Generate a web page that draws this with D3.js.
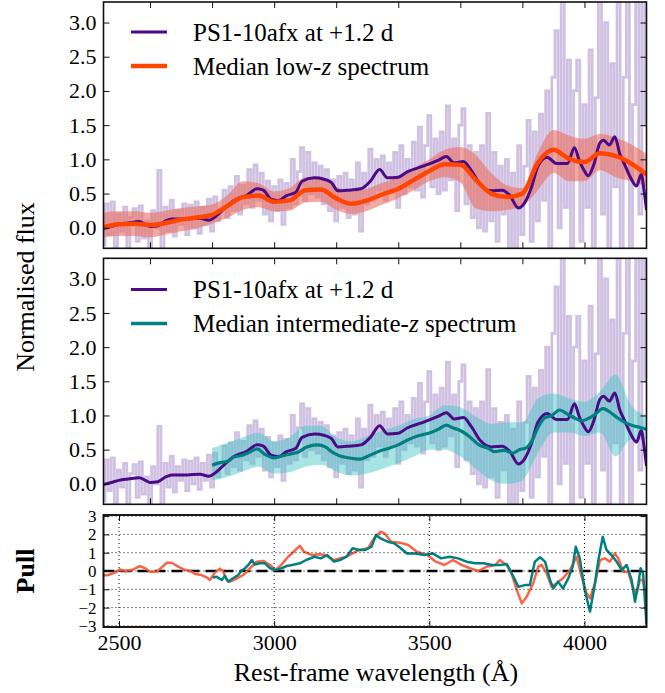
<!DOCTYPE html>
<html>
<head>
<meta charset="utf-8">
<script src="https://cdn.jsdelivr.net/npm/d3@7"></script>
</head>
<body style="margin:0">
<div id="chart"></div>
<script>

// Raw PS1-10afx spectrum, one value every 10 A from 2450 to 4200
var rawStart = 2450, rawStep = 10;
var rawFlux = [
  -0.25, 0.35, -0.10, 0.38, -0.28, 0.20, -0.05, 0.30, -0.30, 0.15,
   0.28, -0.20, 0.32, -0.15, 0.10, -0.30, 0.25, 0.00, 0.84, -0.32,
   0.30, -0.05, 0.40, -0.12, 0.25, 0.05, 0.35, -0.10, 0.33, 0.00,
   0.38, -0.08, 0.30, 0.05, 0.42, -0.05, 0.45, 0.10, 0.28, 0.55,
   0.15, 0.60, 0.25, 0.75, 0.20, 0.62, 0.35, 0.85, 0.30, 0.92,
   0.40, 0.80, 0.20, 0.68, 0.10, 0.60, 0.25, 0.70, 0.05, 0.65,
   0.30, 1.00, 0.35, 0.82, 1.17, 0.40, 1.10, 0.50, 0.95, 0.45,
   0.90, 0.35, 0.85, 0.25, 0.70, 0.10, 0.75, 0.30, 0.80, 0.15,
   0.70, 0.20, 0.95, -0.05, 0.80, 0.35, 1.15, 0.40, 1.00, 0.55,
   1.05, 0.40, 0.95, 0.55, 1.10, 0.30, 1.20, 0.50, 1.00, 0.60,
   1.25, 0.55, 1.47, 0.45, 1.20, 1.64, 0.60, 1.30, 0.50, 1.40,
   0.55, 1.78, 0.70, 1.30, 0.25, 1.50, 1.74, 0.35, 1.20, 0.15,
   1.10, 0.00, 1.20, -0.05, 1.67, 0.10, 1.10, -0.20, 0.90, 0.20,
   1.00, -0.35, 0.80, -0.30, 1.20, -0.10, 0.90, 1.57, -0.20, 1.40,
   0.10, 1.66, 0.40, 2.00, -0.35, 2.20, 2.88, 0.00, 3.50, 0.30,
   2.45, -0.35, 2.00, 2.45, -0.20, 1.80, 0.30, 2.60, -0.35, 1.90,
   3.50, 0.20, 3.00, -0.35, 2.40, 0.60, 3.50, -0.35, 2.20, 3.50,
  -0.35, 1.80, 3.50, 0.20, 3.50, 1.50
];

// Smoothed PS1-10afx spectrum [wavelength, flux]
var ps1Smooth = [
  [2450, -0.01], [2475, 0.02], [2500, 0.05], [2530, 0.07], [2565, 0.09], [2585, 0.05],
  [2600, 0.02], [2625, 0.03], [2650, 0.10], [2670, 0.13], [2720, 0.13], [2760, 0.14],
  [2790, 0.11], [2810, 0.16], [2830, 0.24], [2870, 0.40], [2910, 0.47], [2945, 0.57],
  [2965, 0.55], [2990, 0.42], [3015, 0.40], [3040, 0.47], [3070, 0.52], [3090, 0.68],
  [3130, 0.73], [3160, 0.71], [3185, 0.66], [3205, 0.54], [3240, 0.55], [3280, 0.57],
  [3310, 0.68], [3340, 0.85], [3365, 0.73], [3400, 0.74], [3430, 0.82], [3480, 0.90],
  [3530, 0.99], [3555, 1.04], [3580, 0.95], [3610, 0.97], [3635, 0.84], [3665, 0.63],
  [3700, 0.54], [3735, 0.55], [3760, 0.47], [3787, 0.29], [3805, 0.35], [3830, 0.60],
  [3850, 0.90], [3880, 1.03], [3910, 0.94], [3945, 0.94], [3968, 1.17], [3982, 1.00],
  [4000, 0.83], [4012, 0.76], [4030, 0.92], [4050, 1.24], [4062, 1.28], [4080, 1.21],
  [4098, 1.33], [4114, 1.08], [4130, 0.92], [4150, 0.72], [4168, 0.61], [4183, 0.78],
  [4192, 0.55], [4200, 0.26]
];

// Median low-z spectrum, every 50 A from 2450
var lowStart = 2450, lowStep = 50;
var lowMedian = [
  0.01, 0.05, 0.06, 0.04, 0.07, 0.12, 0.15, 0.19, 0.32, 0.45, 0.47, 0.38,
  0.40, 0.55, 0.56, 0.43, 0.35, 0.40, 0.49, 0.57, 0.70, 0.83, 0.93, 0.92,
  0.70, 0.50, 0.45, 0.50, 0.95, 1.14, 1.01, 0.96, 1.09, 1.05, 0.94, 0.78
];
var lowLo = [
  -0.14, -0.12, -0.12, -0.14, -0.10, -0.05, -0.01, 0.06, 0.15, 0.26, 0.30, 0.24,
   0.25, 0.37, 0.38, 0.26, 0.20, 0.25, 0.34, 0.43, 0.55, 0.68, 0.74, 0.66,
   0.28, 0.24, 0.26, 0.32, 0.55, 0.80, 0.68, 0.68, 0.84, 0.74, 0.68, 0.60
];
var lowHi = [
  0.22, 0.24, 0.24, 0.22, 0.25, 0.29, 0.31, 0.34, 0.48, 0.68, 0.65, 0.53,
  0.58, 0.74, 0.75, 0.60, 0.53, 0.57, 0.66, 0.74, 0.87, 1.00, 1.14, 1.18,
  1.06, 0.80, 0.62, 0.58, 1.10, 1.43, 1.35, 1.30, 1.37, 1.32, 1.22, 1.08
];

// Median intermediate-z spectrum [wavelength, flux]
var midMedian = [
  [2800, 0.27], [2825, 0.31], [2850, 0.33], [2870, 0.39], [2900, 0.42], [2920, 0.46],
  [2945, 0.51], [2970, 0.43], [3000, 0.38], [3020, 0.40], [3045, 0.43], [3080, 0.47],
  [3105, 0.54], [3140, 0.57], [3165, 0.54], [3185, 0.47], [3210, 0.41], [3240, 0.38],
  [3275, 0.36], [3300, 0.40], [3340, 0.48], [3370, 0.52], [3400, 0.57], [3430, 0.64],
  [3455, 0.69], [3480, 0.72], [3505, 0.75], [3530, 0.80], [3555, 0.86], [3575, 0.82],
  [3600, 0.78], [3630, 0.69], [3660, 0.57], [3690, 0.52], [3710, 0.47], [3740, 0.49],
  [3770, 0.45], [3790, 0.50], [3810, 0.52], [3830, 0.62], [3850, 0.82], [3870, 0.96],
  [3895, 1.00], [3920, 1.08], [3945, 1.02], [3970, 0.96], [3990, 0.92], [4010, 0.95],
  [4030, 1.00], [4060, 1.10], [4085, 1.04], [4105, 0.97], [4130, 0.90], [4150, 0.86],
  [4175, 0.83], [4200, 0.80]
];

// Intermediate-z band, every 50 A from 2800
var midStart = 2800, midStep = 50;
var midLo = [
  0.05, 0.10, 0.18, 0.25, 0.15, 0.17, 0.25, 0.28, 0.18, 0.12, 0.15, 0.22, 0.30, 0.40, 0.50,
  0.50, 0.40, 0.22, 0.05, 0.00, 0.05, 0.45, 0.75, 0.75, 0.70, 0.75, 0.40, 0.65, 0.65
];
var midHi = [
  0.52, 0.60, 0.68, 0.75, 0.62, 0.68, 0.85, 0.85, 0.68, 0.62, 0.70, 0.78, 0.85, 0.95, 1.00,
  1.15, 1.12, 0.98, 0.88, 0.90, 0.90, 1.25, 1.32, 1.25, 1.20, 1.35, 1.60, 1.15, 1.00
];

// Pull of PS1-10afx against each median [wavelength, pull]
var pullLow = [
  [2450, -0.25], [2465, -0.22], [2487, -0.09], [2503, 0.09], [2519, 0.00], [2541, 0.05],
  [2567, 0.27], [2584, 0.15], [2600, -0.04], [2621, -0.04], [2637, 0.18], [2654, 0.45],
  [2670, 0.45], [2691, 0.24], [2713, 0.05], [2729, 0.02], [2745, -0.16], [2766, -0.22],
  [2783, -0.35], [2793, -0.49], [2809, -0.09], [2825, 0.13], [2835, 0.00], [2847, -0.49],
  [2858, -0.58], [2879, -0.42], [2900, -0.22], [2922, 0.15], [2944, 0.51], [2965, 0.55],
  [2987, 0.33], [3003, 0.05], [3024, 0.35], [3045, 0.78], [3069, 1.15], [3083, 1.38],
  [3096, 1.05], [3123, 0.87], [3145, 0.92], [3165, 0.87], [3193, 0.60], [3233, 0.78],
  [3274, 1.15], [3302, 1.24], [3322, 1.78], [3343, 2.15], [3356, 2.05], [3377, 1.60],
  [3405, 1.55], [3432, 1.42], [3460, 1.05], [3494, 0.87], [3521, 0.51], [3549, 0.33],
  [3576, 0.60], [3604, 0.33], [3631, 0.15], [3658, 0.00], [3686, 0.24], [3713, 0.33],
  [3727, 0.60], [3749, 0.33], [3765, -0.13], [3782, -1.04], [3798, -1.77], [3814, -1.40],
  [3835, -0.67], [3851, 0.24], [3862, 0.33], [3878, -0.13], [3894, -0.86], [3910, -0.67],
  [3931, -0.40], [3953, 0.05], [3975, 0.78], [3991, -0.31], [4007, -1.22], [4018, -1.49],
  [4034, -0.67], [4050, 0.60], [4066, 0.69], [4082, 0.51], [4098, 0.96], [4109, 0.69],
  [4125, -0.04], [4141, -0.04], [4157, -0.95], [4168, -1.22], [4179, -0.49], [4189, -0.49],
  [4200, -1.59]
];
var pullMid = [
  [2802, -0.36], [2815, -0.31], [2831, -0.49], [2841, -0.27], [2852, -0.58], [2868, -0.40],
  [2884, -0.22], [2895, 0.02], [2906, 0.15], [2917, 0.33], [2928, 0.60], [2938, 0.36],
  [2954, 0.42], [2970, 0.42], [2987, 0.15], [3003, 0.05], [3024, 0.15], [3040, 0.27],
  [3058, 0.33], [3083, 0.42], [3103, 0.60], [3130, 0.78], [3150, 0.69], [3171, 0.87],
  [3193, 0.51], [3212, 0.60], [3233, 0.78], [3253, 1.24], [3274, 1.15], [3294, 1.15],
  [3314, 1.33], [3328, 1.97], [3343, 1.78], [3366, 1.60], [3387, 1.51], [3408, 1.24],
  [3428, 0.96], [3456, 0.96], [3484, 0.87], [3511, 0.96], [3538, 0.69], [3566, 0.78],
  [3593, 0.69], [3620, 0.51], [3648, 0.42], [3675, 0.42], [3702, 0.33], [3729, 0.33],
  [3750, 0.38], [3771, -0.31], [3787, -0.86], [3808, -0.77], [3824, -0.77], [3840, 0.51],
  [3857, 0.75], [3873, 0.51], [3889, -0.49], [3900, -0.95], [3915, -0.58], [3931, -0.95],
  [3948, -0.40], [3962, 0.24], [3972, 1.33], [3985, 0.69], [4001, -1.04], [4018, -2.22],
  [4034, -0.67], [4045, 0.60], [4059, 1.87], [4071, 1.15], [4087, 0.87], [4104, 0.51],
  [4120, 0.05], [4136, 0.33], [4152, -0.49], [4163, -1.68], [4174, -0.67], [4181, 0.15],
  [4189, -0.13], [4200, -2.90]
];

// Ticks
var fluxTicks = [0, 0.5, 1, 1.5, 2, 2.5, 3];
var pullTicks = [-3, -2, -1, 0, 1, 2, 3];
var waveTicks = [2500, 3000, 3500, 4000];
var panelWaveTicks = [2600, 2800, 3000, 3200, 3400, 3600, 3800, 4000];

var legendPs1 = 'PS1-10afx at +1.2 d';
var legendLow = ['Median low-', 'z', ' spectrum'];
var legendMid = ['Median intermediate-', 'z', ' spectrum'];


var width = 665, height = 693;
var serif = 'Liberation Serif';
var colPs1 = '#4b0a86', colRaw = '#d0c1e2';
var colLow = '#ff4500', colLowBand = '#ec6a5c';
var colMid = '#008080', colMidBand = '#3cc4c4';

var svg = d3.select('#chart').append('svg')
    .attr('width', width)
    .attr('height', height)
    .attr('font-family', serif);

var x = d3.scaleLinear().domain([2450, 4200]).range([103.5, 646.5]);

// pair up a start/step grid with a value list
function grid(start, step, vals) {
  return vals.map(function(v, i) { return [start + i * step, v]; });
}

var rawData = grid(rawStart, rawStep, rawFlux);


/**
 * Sets up one panel: scale, clip and group.
 */
function makePanel(id, top, bottom, domain) {
  var y = d3.scaleLinear().domain(domain).range([bottom, top]);
  svg.append('clipPath').attr('id', 'clip-' + id)
    .append('rect')
      .attr('x', x.range()[0]).attr('y', top)
      .attr('width', x.range()[1] - x.range()[0])
      .attr('height', bottom - top);
  var g = svg.append('g').attr('clip-path', 'url(#clip-' + id + ')');
  return { y: y, g: g, top: top, bottom: bottom };
}

function lineOf(p, curve) {
  return d3.line()
    .x(function(d) { return x(d[0]); })
    .y(function(d) { return p.y(d[1]); })
    .curve(curve || d3.curveLinear);
}

function bandOf(p, start, step, lo, hi) {
  var rows = lo.map(function(v, i) { return [start + i * step, v, hi[i]]; });
  return { rows: rows, area: d3.area()
    .x(function(d) { return x(d[0]); })
    .y0(function(d) { return p.y(d[1]); })
    .y1(function(d) { return p.y(d[2]); })
    .curve(d3.curveMonotoneX) };
}

// font set both as attribute and as inline style
function addText(sel, size) {
  return sel
    .attr('font-family', serif).attr('font-size', size)
    .style('font-family', '"' + serif + '"').style('font-size', size + 'px')
    .attr('fill', '#000');
}

/**
 * Ticks pointing inwards on all four sides, plus the frame.
 */
function drawFrame(p, yTicks, yFmt, xTicks, xLabels, gridLines, ySize) {
  var left = x.range()[0], right = x.range()[1];

  if (gridLines) {
    var gg = svg.append('g');
    gg.selectAll('.gy').data(yTicks).enter().append('line')
      .attr('x1', left).attr('x2', right)
      .attr('y1', function(d) { return p.y(d); })
      .attr('y2', function(d) { return p.y(d); })
      .attr('stroke', '#000').attr('stroke-width', 1)
      .attr('stroke-dasharray', '1,3');
    gg.selectAll('.gx').data(xTicks).enter().append('line')
      .attr('x1', function(d) { return x(d); })
      .attr('x2', function(d) { return x(d); })
      .attr('y1', p.top).attr('y2', p.bottom)
      .attr('stroke', '#000').attr('stroke-width', 1)
      .attr('stroke-dasharray', '1,3');
  }

  var axes = [
    [d3.axisLeft(p.y).tickValues(yTicks).tickFormat(yFmt), left, 0, ySize],
    [d3.axisRight(p.y).tickValues(yTicks).tickFormat(''), right, 0, ySize],
    [d3.axisBottom(x).tickValues(xTicks).tickFormat(xLabels ? d3.format('d') : ''), 0, p.bottom, 22],
    [d3.axisTop(x).tickValues(xTicks).tickFormat(''), 0, p.top, 22]
  ];
  axes.forEach(function(a) {
    var g = svg.append('g')
        .attr('transform', 'translate(' + a[1] + ',' + a[2] + ')')
        .call(a[0].tickSize(-6).tickPadding(7));
    addText(g, a[3]);
    g.select('.domain').remove();
    g.selectAll('line').attr('stroke', '#111').attr('stroke-width', 1);
    addText(g.selectAll('text'), a[3]);
  });

  svg.append('rect')
    .attr('x', left).attr('y', p.top)
    .attr('width', right - left).attr('height', p.bottom - p.top)
    .attr('fill', 'none').attr('stroke', '#111').attr('stroke-width', 1.6);
}

function drawLegend(yTop, medColor, medWidth, medText) {
  var rows = [[colPs1, 3, [legendPs1]], [medColor, medWidth, medText]];
  rows.forEach(function(r, i) {
    var cy = yTop + i * 34;
    svg.append('line')
      .attr('x1', 131).attr('x2', 167).attr('y1', cy).attr('y2', cy)
      .attr('stroke', r[0]).attr('stroke-width', r[1]);
    var t = addText(svg.append('text').attr('x', 193).attr('y', cy + 8.5), 25);
    r[2].forEach(function(s, j) {
      t.append('tspan').text(s)
        .attr('font-style', j === 1 ? 'italic' : 'normal');
    });
  });
}


// ---- top panel: low-z ----
var low = makePanel('low', 2, 248.3, [-0.3, 3.3]);
low.g.append('path').datum(rawData)
  .attr('d', lineOf(low, d3.curveStep))
  .attr('fill', 'none').attr('stroke', colRaw).attr('stroke-width', 2.8);
var lowBand = bandOf(low, lowStart, lowStep, lowLo, lowHi);
low.g.append('path').datum(lowBand.rows)
  .attr('d', lowBand.area)
  .attr('fill', colLowBand).attr('fill-opacity', 0.58);
low.g.append('path').datum(ps1Smooth)
  .attr('d', lineOf(low, d3.curveMonotoneX))
  .attr('fill', 'none').attr('stroke', colPs1).attr('stroke-width', 3);
low.g.append('path').datum(grid(lowStart, lowStep, lowMedian))
  .attr('d', lineOf(low, d3.curveMonotoneX))
  .attr('fill', 'none').attr('stroke', colLow).attr('stroke-width', 4.5);
drawFrame(low, fluxTicks, d3.format('.1f'), panelWaveTicks, false, false, 22);
drawLegend(32, colLow, 4.5, legendLow);

// ---- middle panel: intermediate-z ----
var mid = makePanel('mid', 258.3, 504.3, [-0.3, 3.3]);
mid.g.append('path').datum(rawData)
  .attr('d', lineOf(mid, d3.curveStep))
  .attr('fill', 'none').attr('stroke', colRaw).attr('stroke-width', 2.8);
var midBand = bandOf(mid, midStart, midStep, midLo, midHi);
mid.g.append('path').datum(midBand.rows)
  .attr('d', midBand.area)
  .attr('fill', colMidBand).attr('fill-opacity', 0.45);
mid.g.append('path').datum(ps1Smooth)
  .attr('d', lineOf(mid, d3.curveMonotoneX))
  .attr('fill', 'none').attr('stroke', colPs1).attr('stroke-width', 3);
mid.g.append('path').datum(midMedian)
  .attr('d', lineOf(mid, d3.curveMonotoneX))
  .attr('fill', 'none').attr('stroke', colMid).attr('stroke-width', 3.2);
drawFrame(mid, fluxTicks, d3.format('.1f'), panelWaveTicks, false, false, 22);
drawLegend(289.5, colMid, 3.5, legendMid);

// ---- bottom panel: pull ----
var pull = makePanel('pull', 515, 627, [-3.06, 3.06]);
drawFrame(pull, pullTicks, d3.format('d'), waveTicks, true, true, 17);
pull.g.append('line')
  .attr('x1', x.range()[0]).attr('x2', x.range()[1])
  .attr('y1', pull.y(0)).attr('y2', pull.y(0))
  .attr('stroke', '#000').attr('stroke-width', 2.5)
  .attr('stroke-dasharray', '11,6');
pull.g.append('path').datum(pullLow)
  .attr('d', lineOf(pull))
  .attr('fill', 'none').attr('stroke', '#fa6446').attr('stroke-width', 2.5)
  .attr('stroke-linejoin', 'round');
pull.g.append('path').datum(pullMid)
  .attr('d', lineOf(pull))
  .attr('fill', 'none').attr('stroke', colMid).attr('stroke-width', 2.5)
  .attr('stroke-linejoin', 'round');
// frame again on top of the curves
svg.append('rect')
  .attr('x', x.range()[0]).attr('y', 515)
  .attr('width', x.range()[1] - x.range()[0]).attr('height', 112)
  .attr('fill', 'none').attr('stroke', '#111').attr('stroke-width', 1.6);

// axis labels
addText(svg.append('text'), 26)
  .attr('transform', 'translate(34,287) rotate(-90)')
  .attr('text-anchor', 'middle')
  .text('Normalised flux');
addText(svg.append('text'), 26)
  .attr('transform', 'translate(34,571) rotate(-90)')
  .attr('text-anchor', 'middle')
  .attr('font-weight', 'bold')
  .text('Pull');
addText(svg.append('text'), 26)
  .attr('x', 376).attr('y', 681)
  .attr('text-anchor', 'middle')
  .text('Rest-frame wavelength (\u00c5)');

</script>
</body>
</html>
